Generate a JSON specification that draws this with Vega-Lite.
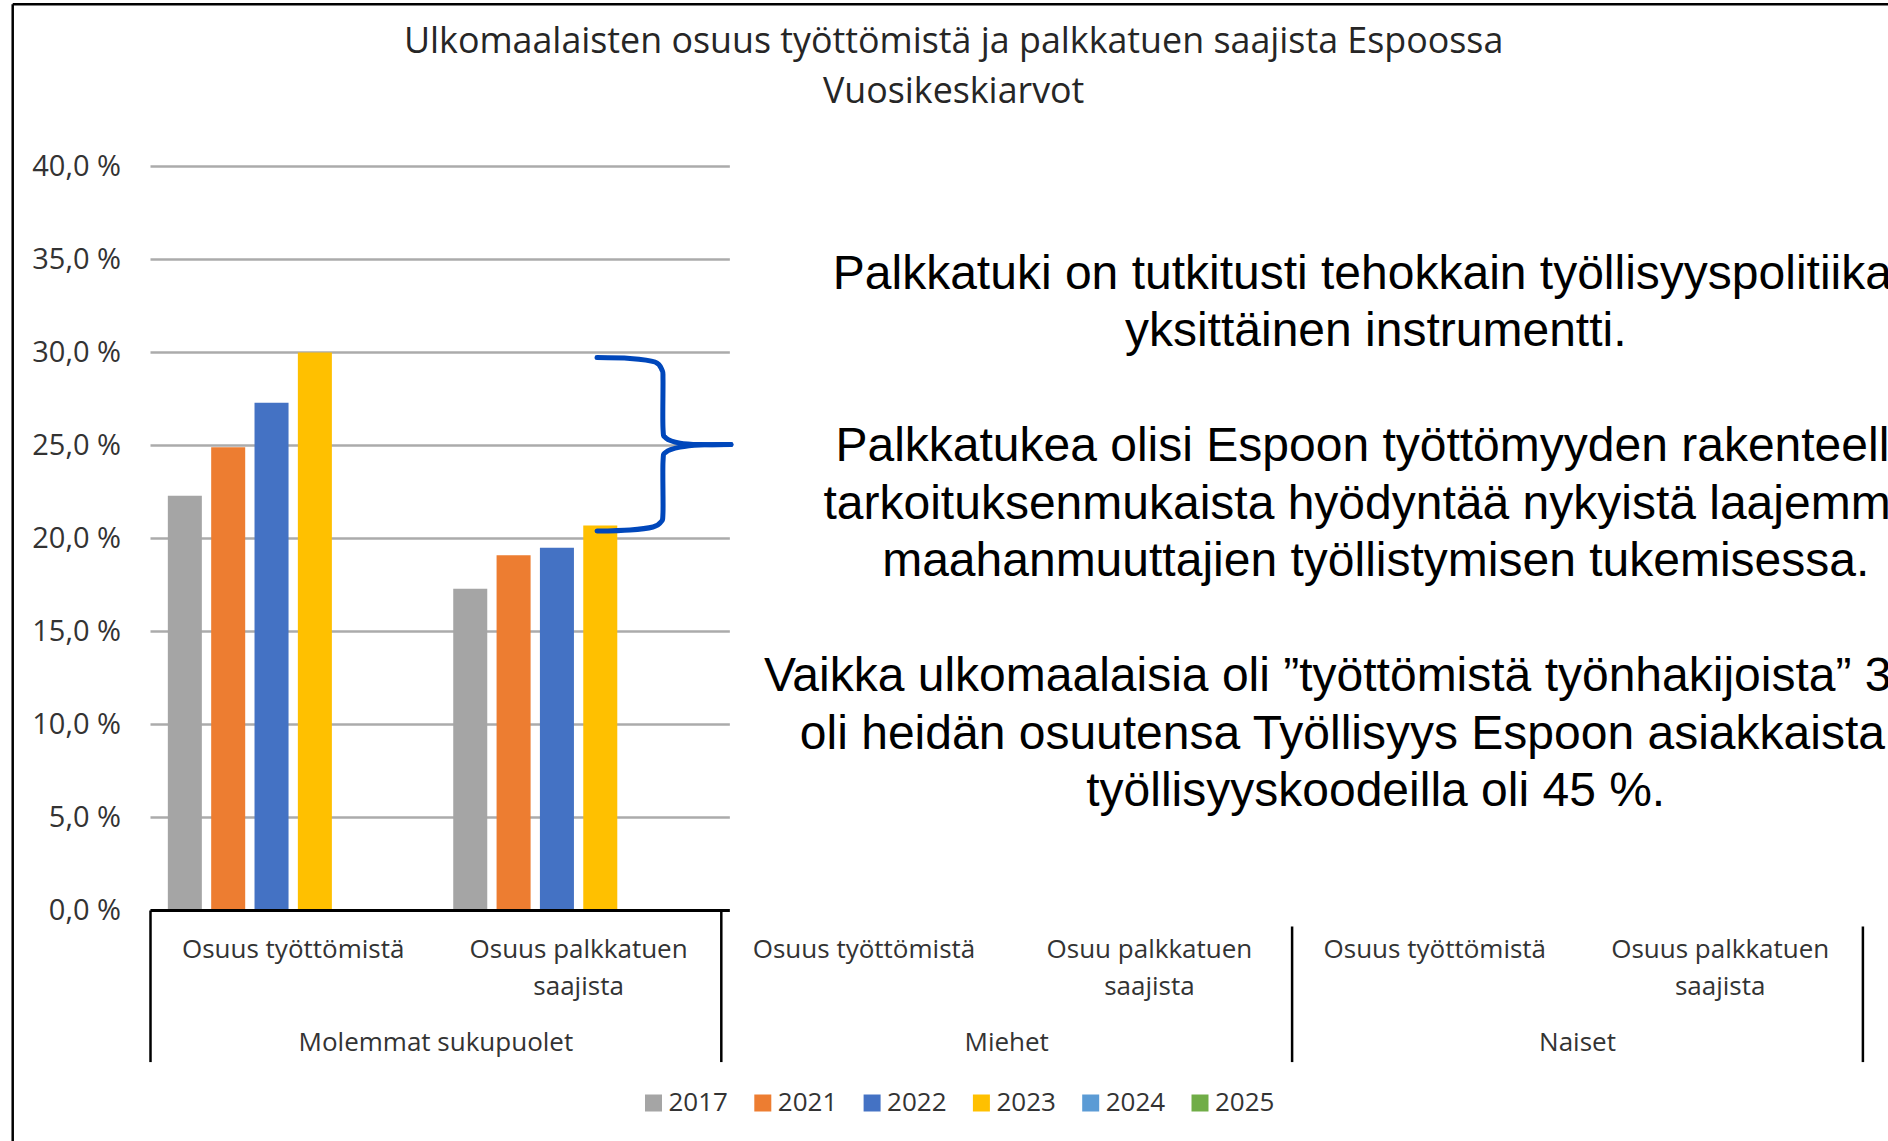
{
  "$schema": "https://vega.github.io/schema/vega-lite/v6.json",
  "width": 1712.4,
  "height": 744,
  "autosize": {"type": "none"},
  "padding": {"left": 150.5, "top": 166.5, "right": 25.1, "bottom": 230.5},
  "background": "white",
  "config": {"view": {"stroke": null}, "font": "Open Sans"},
  "resolve": {"scale": {"x": "independent"}},
  "datasets": {
    "ticks": [
      {"value": 0, "label": "0,0 %"}, {"value": 5, "label": "5,0 %"}, {"value": 10, "label": "10,0 %"},
      {"value": 15, "label": "15,0 %"}, {"value": 20, "label": "20,0 %"}, {"value": 25, "label": "25,0 %"},
      {"value": 30, "label": "30,0 %"}, {"value": 35, "label": "35,0 %"}, {"value": 40, "label": "40,0 %"}
    ],
    "bars": [
      {"group": "Molemmat sukupuolet", "measure": "Osuus työttömistä", "category": "Molemmat sukupuolet: Osuus työttömistä", "year": "2017", "value": 22.3},
      {"group": "Molemmat sukupuolet", "measure": "Osuus työttömistä", "category": "Molemmat sukupuolet: Osuus työttömistä", "year": "2021", "value": 24.9},
      {"group": "Molemmat sukupuolet", "measure": "Osuus työttömistä", "category": "Molemmat sukupuolet: Osuus työttömistä", "year": "2022", "value": 27.3},
      {"group": "Molemmat sukupuolet", "measure": "Osuus työttömistä", "category": "Molemmat sukupuolet: Osuus työttömistä", "year": "2023", "value": 30.0},
      {"group": "Molemmat sukupuolet", "measure": "Osuus palkkatuen saajista", "category": "Molemmat sukupuolet: Osuus palkkatuen saajista", "year": "2017", "value": 17.3},
      {"group": "Molemmat sukupuolet", "measure": "Osuus palkkatuen saajista", "category": "Molemmat sukupuolet: Osuus palkkatuen saajista", "year": "2021", "value": 19.1},
      {"group": "Molemmat sukupuolet", "measure": "Osuus palkkatuen saajista", "category": "Molemmat sukupuolet: Osuus palkkatuen saajista", "year": "2022", "value": 19.5},
      {"group": "Molemmat sukupuolet", "measure": "Osuus palkkatuen saajista", "category": "Molemmat sukupuolet: Osuus palkkatuen saajista", "year": "2023", "value": 20.7}
    ],
    "categories": [
      {"group": "Molemmat sukupuolet", "category": "Molemmat sukupuolet: Osuus työttömistä", "label": "Osuus työttömistä"},
      {"group": "Molemmat sukupuolet", "category": "Molemmat sukupuolet: Osuus palkkatuen saajista", "label": "Osuus palkkatuen\nsaajista"},
      {"group": "Miehet", "category": "Miehet: Osuus työttömistä", "label": "Osuus työttömistä"},
      {"group": "Miehet", "category": "Miehet: Osuu palkkatuen saajista", "label": "Osuu palkkatuen\nsaajista"},
      {"group": "Naiset", "category": "Naiset: Osuus työttömistä", "label": "Osuus työttömistä"},
      {"group": "Naiset", "category": "Naiset: Osuus palkkatuen saajista", "label": "Osuus palkkatuen\nsaajista"}
    ],
    "groups": [{"group": "Molemmat sukupuolet"}, {"group": "Miehet"}, {"group": "Naiset"}],
    "brace": [
      {"part": "upper", "i": 0, "x": 1.5645, "y": 29.73},
      {"part": "upper", "i": 1, "x": 1.6801, "y": 29.68},
      {"part": "upper", "i": 2, "x": 1.7677, "y": 29.49},
      {"part": "upper", "i": 3, "x": 1.7922, "y": 29.06},
      {"part": "upper", "i": 4, "x": 1.7957, "y": 28.52},
      {"part": "upper", "i": 5, "x": 1.7957, "y": 25.94},
      {"part": "upper", "i": 6, "x": 1.8062, "y": 25.40},
      {"part": "upper", "i": 7, "x": 1.8553, "y": 25.13},
      {"part": "upper", "i": 8, "x": 1.9254, "y": 25.05},
      {"part": "upper", "i": 9, "x": 2.034, "y": 25.05},
      {"part": "lower", "i": 0, "x": 1.5645, "y": 20.40},
      {"part": "lower", "i": 1, "x": 1.6801, "y": 20.46},
      {"part": "lower", "i": 2, "x": 1.7607, "y": 20.62},
      {"part": "lower", "i": 3, "x": 1.7887, "y": 20.89},
      {"part": "lower", "i": 4, "x": 1.7957, "y": 21.42},
      {"part": "lower", "i": 5, "x": 1.7957, "y": 24.11},
      {"part": "lower", "i": 6, "x": 1.8062, "y": 24.65},
      {"part": "lower", "i": 7, "x": 1.8553, "y": 24.91},
      {"part": "lower", "i": 8, "x": 1.9254, "y": 25.03},
      {"part": "lower", "i": 9, "x": 2.034, "y": 25.05}
    ],
    "note": [
      {"text": "Palkkatuki on tutkitusti tehokkain työllisyyspolitiikan\nyksittäinen instrumentti.\n\u2800\nPalkkatukea olisi Espoon työttömyyden rakenteella\ntarkoituksenmukaista hyödyntää nykyistä laajemmin\nmaahanmuuttajien työllistymisen tukemisessa.\n\u2800\nVaikka ulkomaalaisia oli ”työttömistä työnhakijoista” 30 %,\noli heidän osuutensa Työllisyys Espoon asiakkaista eri\ntyöllisyyskoodeilla oli 45 %."}
    ],
    "title": [
      {"text": "Ulkomaalaisten osuus työttömistä ja palkkatuen saajista Espoossa\nVuosikeskiarvot"}
    ]
  },
  "layer": [
    {
      "data": {"name": "ticks"},
      "mark": {"type": "rule", "stroke": "#ABABAB", "strokeWidth": 2.5},
      "encoding": {
        "y": {"field": "value", "type": "quantitative", "title": null, "axis": null, "scale": {"domain": [0, 40], "nice": false, "zero": false}}
      }
    },
    {
      "data": {"name": "ticks"},
      "mark": {"type": "text", "font": "Open Sans", "fontSize": 29, "align": "right", "baseline": "middle", "dx": -29.5, "color": "#333333"},
      "encoding": {
        "x": {"datum": 0, "type": "quantitative", "axis": null, "scale": {"domain": [0, 6], "nice": false, "zero": false}},
        "y": {"field": "value", "type": "quantitative", "title": null, "axis": null, "scale": {"domain": [0, 40], "nice": false, "zero": false}},
        "text": {"field": "label", "type": "nominal"}
      }
    },
    {
      "data": {"name": "bars"},
      "mark": {"type": "bar"},
      "encoding": {
        "x": {
          "field": "category", "type": "nominal", "axis": null,
          "scale": {"domain": ["Molemmat sukupuolet: Osuus työttömistä", "Molemmat sukupuolet: Osuus palkkatuen saajista", "Miehet: Osuus työttömistä", "Miehet: Osuu palkkatuen saajista", "Naiset: Osuus työttömistä", "Naiset: Osuus palkkatuen saajista"], "paddingInner": 0, "paddingOuter": 0}
        },
        "xOffset": {
          "field": "year", "type": "nominal",
          "scale": {"domain": ["2017", "2021", "2022", "2023", "2024", "2025"], "paddingInner": 0.215, "paddingOuter": 0.4}
        },
        "y": {"field": "value", "type": "quantitative", "title": null, "axis": null, "scale": {"domain": [0, 40], "nice": false, "zero": false}},
        "color": {
          "field": "year", "type": "nominal",
          "scale": {"domain": ["2017", "2021", "2022", "2023", "2024", "2025"], "range": ["#A5A5A5", "#ED7D31", "#4472C4", "#FFC000", "#5B9BD5", "#70AD47"]},
          "legend": {
            "orient": "none", "legendX": 490, "legendY": 923.5, "direction": "horizontal", "title": null,
            "symbolType": "square", "symbolSize": 289, "symbolStrokeWidth": 0, "symbolOpacity": 1,
            "labelFont": "Open Sans", "labelFontSize": 26, "labelColor": "#333333", "labelOffset": 2,
            "columnPadding": 21.3, "padding": 0
          }
        }
      }
    },
    {
      "data": {"values": [{}]},
      "mark": {"type": "rule", "stroke": "#000000", "strokeWidth": 3},
      "encoding": {
        "y": {"datum": 0, "type": "quantitative", "axis": null, "title": null, "scale": {"domain": [0, 40], "nice": false, "zero": false}}
      }
    },
    {
      "data": {"name": "groups"},
      "mark": {"type": "rule", "stroke": "#000000", "strokeWidth": 2.5},
      "encoding": {
        "x": {"field": "group", "type": "nominal", "bandPosition": 0, "axis": null, "scale": {"domain": ["Molemmat sukupuolet", "Miehet", "Naiset"], "paddingInner": 0, "paddingOuter": 0}},
        "y": {"datum": 0, "type": "quantitative", "axis": null, "title": null, "scale": {"domain": [0, 40], "nice": false, "zero": false}},
        "y2": {"datum": -8.15}
      }
    },
    {
      "data": {"name": "groups"},
      "transform": [{"filter": "datum.group === 'Naiset'"}],
      "mark": {"type": "rule", "stroke": "#000000", "strokeWidth": 2.5},
      "encoding": {
        "x": {"field": "group", "type": "nominal", "bandPosition": 1, "axis": null, "scale": {"domain": ["Molemmat sukupuolet", "Miehet", "Naiset"], "paddingInner": 0, "paddingOuter": 0}},
        "y": {"datum": 0, "type": "quantitative", "axis": null, "title": null, "scale": {"domain": [0, 40], "nice": false, "zero": false}},
        "y2": {"datum": -8.15}
      }
    },
    {
      "data": {"values": [{}]},
      "mark": {"type": "rect", "fill": "#FFFFFF", "stroke": null},
      "encoding": {
        "x": {"datum": 2.03, "type": "quantitative", "axis": null, "scale": {"domain": [0, 6], "nice": false, "zero": false}},
        "x2": {"datum": 6.3},
        "y": {"datum": 41, "type": "quantitative", "axis": null, "title": null, "scale": {"domain": [0, 40], "nice": false, "zero": false}},
        "y2": {"datum": -0.86}
      }
    },
    {
      "data": {"name": "brace"},
      "mark": {"type": "line", "stroke": "#0047BB", "strokeWidth": 5, "interpolate": "cardinal", "strokeCap": "round", "strokeJoin": "round"},
      "encoding": {
        "x": {"field": "x", "type": "quantitative", "axis": null, "scale": {"domain": [0, 6], "nice": false, "zero": false}},
        "y": {"field": "y", "type": "quantitative", "axis": null, "title": null, "scale": {"domain": [0, 40], "nice": false, "zero": false}},
        "detail": {"field": "part", "type": "nominal"},
        "order": {"field": "i", "type": "quantitative"}
      }
    },
    {
      "data": {"name": "note"},
      "mark": {"type": "text", "lineBreak": "\n", "font": "Liberation Sans", "fontSize": 48, "align": "center", "baseline": "middle", "lineHeight": 57.5, "color": "#000000"},
      "encoding": {
        "x": {"datum": 4.293, "type": "quantitative", "axis": null, "scale": {"domain": [0, 6], "nice": false, "zero": false}},
        "y": {"datum": 34.19, "type": "quantitative", "axis": null, "title": null, "scale": {"domain": [0, 40], "nice": false, "zero": false}},
        "text": {"field": "text", "type": "nominal"}
      }
    },
    {
      "data": {"name": "title"},
      "mark": {"type": "text", "lineBreak": "\n", "font": "Open Sans", "fontSize": 35.8, "align": "center", "baseline": "middle", "lineHeight": 49.5, "color": "#262626"},
      "encoding": {
        "x": {"datum": 2.814, "type": "quantitative", "axis": null, "scale": {"domain": [0, 6], "nice": false, "zero": false}},
        "y": {"datum": 46.69, "type": "quantitative", "axis": null, "title": null, "scale": {"domain": [0, 40], "nice": false, "zero": false}},
        "text": {"field": "text", "type": "nominal"}
      }
    },
    {
      "data": {"name": "categories"},
      "mark": {"type": "text", "lineBreak": "\n", "font": "Open Sans", "fontSize": 26, "align": "center", "baseline": "top", "dy": 26, "lineHeight": 37, "color": "#333333"},
      "encoding": {
        "x": {
          "field": "category", "type": "nominal", "axis": null,
          "scale": {"domain": ["Molemmat sukupuolet: Osuus työttömistä", "Molemmat sukupuolet: Osuus palkkatuen saajista", "Miehet: Osuus työttömistä", "Miehet: Osuu palkkatuen saajista", "Naiset: Osuus työttömistä", "Naiset: Osuus palkkatuen saajista"], "paddingInner": 0, "paddingOuter": 0}
        },
        "y": {"datum": 0, "type": "quantitative", "axis": null, "title": null, "scale": {"domain": [0, 40], "nice": false, "zero": false}},
        "text": {"field": "label", "type": "nominal"}
      }
    },
    {
      "data": {"name": "groups"},
      "mark": {"type": "text", "font": "Open Sans", "fontSize": 26, "align": "center", "baseline": "middle", "dy": 132.5, "color": "#333333"},
      "encoding": {
        "x": {"field": "group", "type": "nominal", "axis": null, "scale": {"domain": ["Molemmat sukupuolet", "Miehet", "Naiset"], "paddingInner": 0, "paddingOuter": 0}},
        "y": {"datum": 0, "type": "quantitative", "axis": null, "title": null, "scale": {"domain": [0, 40], "nice": false, "zero": false}},
        "text": {"field": "group", "type": "nominal"}
      }
    },
    {
      "data": {"values": [{}]},
      "mark": {"type": "rule", "stroke": "#000000", "strokeWidth": 2.5},
      "encoding": {
        "x": {"datum": -0.4828, "type": "quantitative", "axis": null, "scale": {"domain": [0, 6], "nice": false, "zero": false}},
        "y": {"datum": 48.72, "type": "quantitative", "axis": null, "title": null, "scale": {"domain": [0, 40], "nice": false, "zero": false}},
        "y2": {"datum": -13}
      }
    },
    {
      "data": {"values": [{}]},
      "mark": {"type": "rule", "stroke": "#000000", "strokeWidth": 2.5},
      "encoding": {
        "x": {"datum": -0.4828, "type": "quantitative", "axis": null, "scale": {"domain": [0, 6], "nice": false, "zero": false}},
        "x2": {"datum": 6.3},
        "y": {"datum": 48.72, "type": "quantitative", "axis": null, "title": null, "scale": {"domain": [0, 40], "nice": false, "zero": false}}
      }
    }
  ]
}
